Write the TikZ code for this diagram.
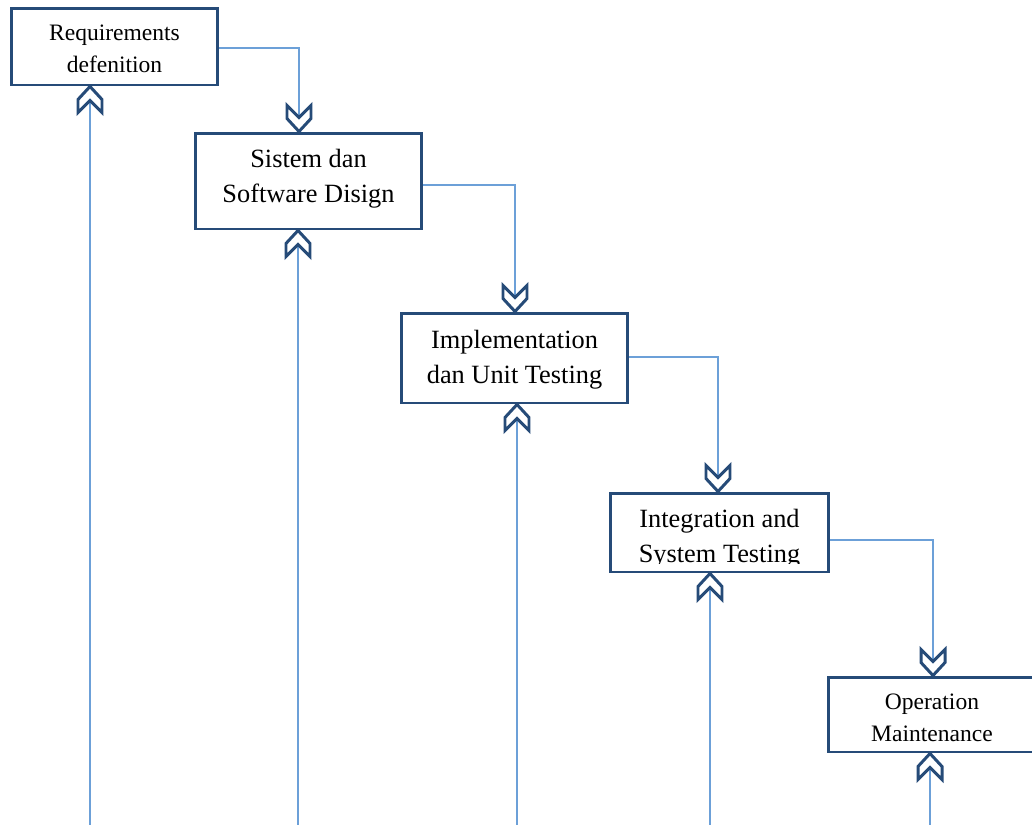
\documentclass[tikz,border=0pt]{standalone}
\usepackage{fontspec}
\setmainfont{Liberation Serif}
\usetikzlibrary{calc}
\definecolor{boxblue}{RGB}{38,75,120}
\definecolor{lineblue}{RGB}{108,160,216}
\begin{document}
\begin{tikzpicture}[x=0.02cm, y=-0.02cm,
  stepbox/.style={draw=boxblue, line width=1.7pt, rectangle},
  steptext/.style={align=center, inner sep=0pt},
  bigtext/.style={steptext, font=\fontsize{15}{19.8}\selectfont},
  smalltext/.style={steptext, font=\fontsize{13.4}{18.2}\selectfont},
  link/.style={draw=lineblue, line width=0.75pt},
  chev/.pic={\draw[boxblue, line width=1.7pt, fill=white, line join=miter]
    (-12,-26) -- (0,-14) -- (12,-26) -- (12,-13) -- (0,0) -- (-12,-13) -- cycle;}]
 		\useasboundingbox (0,0) rectangle (1032,825);
 		% the five steps
 		\node[stepbox, minimum width=4.14cm, minimum height=1.54cm] (n1) at (114.5,46.5) {};
 		\node[stepbox, minimum width=4.54cm, minimum height=1.92cm] (n2) at (308.5,181) {};
 		\node[stepbox, minimum width=4.54cm, minimum height=1.8cm] (n3) at (514.5,358) {};
 		\node[stepbox, minimum width=4.38cm, minimum height=1.58cm] (n4) at (719.5,532.5) {};
 		\node[stepbox, minimum width=4.16cm, minimum height=1.5cm] (n5) at (932,714.5) {};
 		\node[smalltext] (l1) at (114.5,49) {Requirements\\defenition};
 		\node[bigtext] (l2) at (308.5,179) {Sistem dan\\Software Disign};
 		\node[bigtext] (l3) at (514.5,360) {Implementation\\dan Unit Testing};
 		\begin{scope}
 		\clip (n4.north west) rectangle ($(n4.south east)+(0,-10)$);
 		\node[bigtext] (l4) at (719.5,539) {Integration and\\System Testing};
 		\end{scope}
 		\node[smalltext] (l5) at (932,717.5) {Operation\\Maintenance};
 		% feedback lines from below
 		\coordinate (b1) at (90,825);
 		\coordinate (b2) at (298,825);
 		\coordinate (b3) at (517,825);
 		\coordinate (b4) at (710,825);
 		\coordinate (b5) at (930,825);
 		\draw[link] (b1) -- (b1 |- n1.south);
 		\draw[link] (b2) -- (b2 |- n2.south);
 		\draw[link] (b3) -- (b3 |- n3.south);
 		\draw[link] (b4) -- (b4 |- n4.south);
 		\draw[link] (b5) -- (b5 |- n5.south);
 		% steps down
 		\draw[link] ($(n1.east)+(0,1.5)$) -| ($(n2.north)+(-9.5,0)$);
 		\draw[link] ($(n2.east)+(0,4)$) -| ($(n3.north)+(0.5,0)$);
 		\draw[link] ($(n3.east)+(0,-1)$) -| ($(n4.north)+(-1.5,0)$);
 		\draw[link] ($(n4.east)+(0,7.5)$) -| ($(n5.north)+(1,0)$);
 		% arrow heads
 		\pic at ($(n2.north)+(-9.5,0)$) {chev};
 		\pic at ($(n3.north)+(0.5,0)$) {chev};
 		\pic at ($(n4.north)+(-1.5,0)$) {chev};
 		\pic at ($(n5.north)+(1,0)$) {chev};
 		\pic[rotate=180] at (b1 |- n1.south) {chev};
 		\pic[rotate=180] at (b2 |- n2.south) {chev};
 		\pic[rotate=180] at (b3 |- n3.south) {chev};
 		\pic[rotate=180] at (b4 |- n4.south) {chev};
 		\pic[rotate=180] at (b5 |- n5.south) {chev};
\end{tikzpicture}
\end{document}
